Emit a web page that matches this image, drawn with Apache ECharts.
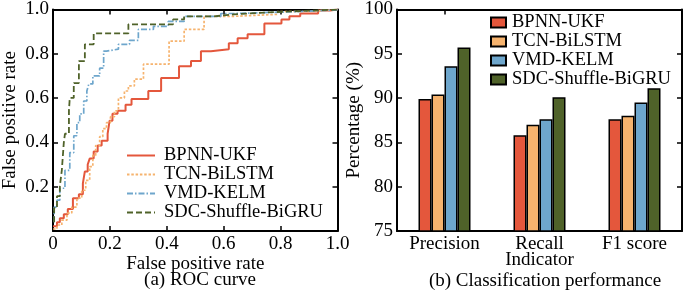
<!DOCTYPE html>
<html>
<head>
<meta charset="utf-8">
<script src="https://cdn.jsdelivr.net/npm/echarts@6.0.0/dist/echarts.min.js"></script>
<style>
  html, body { margin: 0; padding: 0; background: #fff; }
  #main { width: 685px; height: 293px; }
</style>
</head>
<body>
<div id="main"></div>
<script>
var models = ['BPNN-UKF', 'TCN-BiLSTM', 'VMD-KELM', 'SDC-Shuffle-BiGRU'];
var colors = ['#e4573c', '#f6b36e', '#6ea6cc', '#4f6229'];

// ROC curves: step corners (FPR, TPR)
var bpnnFpr = [0, 0.014, 0.024, 0.038, 0.052, 0.070, 0.091, 0.105, 0.112, 0.122, 0.129, 0.143, 0.157, 0.171, 0.192, 0.199, 0.209, 0.227, 0.255, 0.276, 0.335, 0.380, 0.443, 0.485, 0.520, 0.555, 0.618, 0.649, 0.684, 0.743, 0.803, 0.831, 0.869, 0.932, 0.974, 1.0];
var bpnnTpr = [0.022, 0.040, 0.058, 0.076, 0.099, 0.148, 0.166, 0.215, 0.269, 0.300, 0.327, 0.359, 0.386, 0.408, 0.439, 0.498, 0.529, 0.543, 0.570, 0.596, 0.632, 0.691, 0.744, 0.767, 0.812, 0.821, 0.848, 0.870, 0.888, 0.937, 0.955, 0.969, 0.982, 0.996, 1.0, 1.0];

var tcnFpr = [0, 0.014, 0.031, 0.049, 0.066, 0.084, 0.101, 0.115, 0.129, 0.140, 0.150, 0.164, 0.175, 0.188, 0.202, 0.216, 0.230, 0.251, 0.265, 0.286, 0.318, 0.408, 0.461, 0.531, 0.632, 0.789, 0.904, 1.0];
var tcnTpr = [0.009, 0.027, 0.049, 0.081, 0.108, 0.148, 0.184, 0.229, 0.291, 0.341, 0.386, 0.426, 0.462, 0.489, 0.516, 0.543, 0.601, 0.632, 0.655, 0.686, 0.753, 0.857, 0.910, 0.969, 0.978, 0.991, 1.0, 1.0];

var vmdFpr = [0.004, 0.004, 0.014, 0.024, 0.042, 0.059, 0.073, 0.084, 0.094, 0.108, 0.119, 0.126, 0.140, 0.164, 0.178, 0.188, 0.230, 0.269, 0.300, 0.353, 0.405, 0.461, 0.590, 0.642, 0.869, 1.0];
var vmdTpr = [0.040, 0.108, 0.139, 0.193, 0.274, 0.354, 0.430, 0.489, 0.529, 0.587, 0.632, 0.664, 0.700, 0.735, 0.812, 0.821, 0.843, 0.861, 0.910, 0.924, 0.946, 0.969, 0.982, 0.991, 0.998, 1.0];

var sdcFpr = [0.004, 0.004, 0.014, 0.024, 0.031, 0.038, 0.042, 0.056, 0.059, 0.073, 0.091, 0.112, 0.143, 0.265, 0.422, 0.461, 0.565, 0.635, 0.754, 0.869, 1.0];
var sdcTpr = [0.040, 0.103, 0.157, 0.202, 0.274, 0.399, 0.439, 0.543, 0.601, 0.668, 0.767, 0.843, 0.892, 0.933, 0.955, 0.969, 0.978, 0.987, 0.993, 1.0, 1.0];

// classification performance (%)
var indicators = ['Precision', 'Recall', 'F1 score'];
var bpnnScore = [89.9, 85.8, 87.6];
var tcnScore = [90.4, 87.0, 88.0];
var vmdScore = [93.6, 87.6, 89.5];
var sdcScore = [95.7, 90.1, 91.1];

var font = 'Liberation Serif';
var dashes = ['solid', [2.5, 1.8], [6, 2, 1.5, 2], [6, 3]];
var lineWidths = [2, 1.7, 1.7, 1.8];

function zip(xs, ys) {
  return xs.map(function (x, i) { return [x, ys[i]]; });
}

var rocData = [zip(bpnnFpr, bpnnTpr), zip(tcnFpr, tcnTpr), zip(vmdFpr, vmdTpr), zip(sdcFpr, sdcTpr)];
var barData = [bpnnScore, tcnScore, vmdScore, sdcScore];

var axisLine = { show: true, onZero: false, lineStyle: { color: '#000', width: 2 } };
var tickIn = { show: true, inside: true, length: 5, lineStyle: { color: '#000', width: 1.5 } };
var labelStyle = { color: '#000', fontFamily: font, fontSize: 19 };
var nameStyle = { color: '#000', fontFamily: font, fontSize: 19 };

function rocLabel(v) {
  return v === 0 ? '0' : v.toFixed(1);
}

var chart = echarts.init(document.getElementById('main'), null, { renderer: 'canvas' });

var series = [];
models.forEach(function (m, i) {
  series.push({
    name: m,
    type: 'line',
    xAxisIndex: 0,
    yAxisIndex: 0,
    step: 'end',
    symbol: 'none',
    data: rocData[i],
    lineStyle: { color: colors[i], width: lineWidths[i], type: dashes[i] },
    itemStyle: { color: colors[i] },
    z: 2 + i
  });
});
models.forEach(function (m, i) {
  series.push({
    name: 'bar:' + m,
    type: 'bar',
    xAxisIndex: 2,
    yAxisIndex: 2,
    barWidth: 13,
    barGap: '0%',
    data: barData[i],
    itemStyle: { color: colors[i], borderColor: '#000', borderWidth: 1.5 }
  });
});

chart.setOption({
  animation: false,
  backgroundColor: '#fff',
  title: [
    { text: '(a) ROC curve', left: 195, top: 266, textAlign: 'center',
      textStyle: { color: '#000', fontFamily: font, fontSize: 19, fontWeight: 'normal' } },
    { text: '(b) Classification performance', left: 540, top: 267, textAlign: 'center',
      textStyle: { color: '#000', fontFamily: font, fontSize: 19, fontWeight: 'normal' } }
  ],
  legend: [
    {
      // tiny itemHeight keeps the line icon but hides the legend dot
      data: models,
      orient: 'vertical',
      left: 126,
      top: 146,
      padding: 0,
      itemWidth: 28,
      itemHeight: 1,
      itemGap: 0,
      textStyle: { color: '#000', fontFamily: font, fontSize: 18.5, lineHeight: 18.3, padding: [0, 0, 0, 4] }
    },
    {
      data: models.map(function (m) { return 'bar:' + m; }),
      formatter: function (n) { return n.replace('bar:', ''); },
      orient: 'vertical',
      left: 490,
      top: 13,
      padding: 0,
      icon: 'rect',
      itemWidth: 15,
      itemHeight: 10,
      itemGap: 0,
      textStyle: { color: '#000', fontFamily: font, fontSize: 18.5, lineHeight: 18.3, padding: [0, 0, 0, 1] }
    }
  ],
  grid: [
    { left: 51, top: 8, width: 286.5, height: 223 },
    { left: 397, top: 8, width: 285, height: 223 }
  ],
  xAxis: [
    {
      gridIndex: 0, type: 'value', position: 'bottom', min: 0, max: 1, interval: 0.2,
      axisLine: axisLine, axisTick: tickIn, splitLine: { show: false },
      axisLabel: { margin: 4, formatter: rocLabel, textStyle: labelStyle },
      name: 'False positive rate', nameLocation: 'middle', nameGap: 24, nameMoveOverlap: false,
      nameTextStyle: nameStyle
    },
    {
      gridIndex: 0, type: 'value', position: 'top', min: 0, max: 1, interval: 0.2,
      axisLine: axisLine, axisTick: tickIn, splitLine: { show: false }, axisLabel: { show: false }
    },
    {
      gridIndex: 1, type: 'category', position: 'bottom', data: indicators,
      axisLine: axisLine, axisTick: { show: false }, splitLine: { show: false },
      axisLabel: { margin: 4, textStyle: labelStyle },
      name: 'Indicator', nameLocation: 'middle', nameGap: 20, nameMoveOverlap: false,
      nameTextStyle: nameStyle
    },
    {
      gridIndex: 1, type: 'category', position: 'top', data: indicators,
      axisLine: axisLine,
      axisTick: {
        show: true, inside: true, alignWithLabel: true, length: 5,
        interval: function (idx) { return idx === 0; },
        lineStyle: { color: '#000', width: 1.5 }
      },
      splitLine: { show: false }, axisLabel: { show: false }
    }
  ],
  yAxis: [
    {
      gridIndex: 0, type: 'value', position: 'left', min: 0, max: 1, interval: 0.2,
      axisLine: axisLine, axisTick: tickIn, splitLine: { show: false },
      axisLabel: { margin: 4, formatter: function (v) { return v === 0 ? '' : v.toFixed(1); }, textStyle: labelStyle },
      name: 'False positive rate', nameLocation: 'middle', nameGap: 33, nameMoveOverlap: false,
      nameTextStyle: nameStyle
    },
    {
      gridIndex: 0, type: 'value', position: 'right', min: 0, max: 1, interval: 0.2,
      axisLine: axisLine, axisTick: tickIn, splitLine: { show: false }, axisLabel: { show: false }
    },
    {
      gridIndex: 1, type: 'value', position: 'left', min: 75, max: 100, interval: 5,
      axisLine: axisLine, axisTick: tickIn, splitLine: { show: false },
      axisLabel: { margin: 4, textStyle: labelStyle },
      name: 'Percentage (%)', nameLocation: 'middle', nameGap: 33, nameMoveOverlap: false,
      nameTextStyle: nameStyle
    },
    {
      gridIndex: 1, type: 'value', position: 'right', min: 75, max: 100, interval: 5,
      axisLine: axisLine, axisTick: tickIn, splitLine: { show: false }, axisLabel: { show: false }
    }
  ],
  series: series
});
</script>
</body>
</html>
